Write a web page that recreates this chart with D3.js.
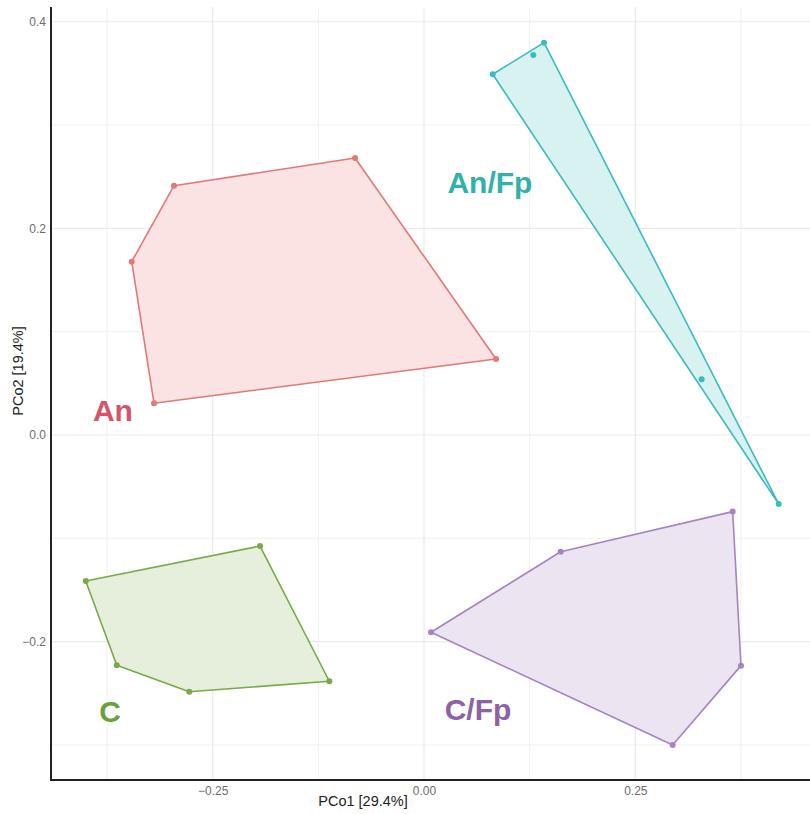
<!DOCTYPE html>
<html>
<head>
<meta charset="utf-8">
<script src="https://cdn.jsdelivr.net/npm/d3@7"></script>
<style>
  html, body { margin: 0; padding: 0; background: #fff; }
  svg { display: block; font-family: "Liberation Sans", Arial, sans-serif; }
</style>
</head>
<body>
<div id="chart"></div>
<script>
// ---- data ----
const groups = ["An", "An/Fp", "C", "C/Fp"];
const anPoints = [[-0.2958, 0.2413], [-0.0816, 0.2681], [0.0852, 0.0736], [-0.3194, 0.0307], [-0.3458, 0.1678]];
const anFpPoints = [[0.0813, 0.3492], [0.1420, 0.3798], [0.1293, 0.3679], [0.3285, 0.0539], [0.4196, -0.0668]];
const cPoints = [[-0.4002, -0.1413], [-0.1940, -0.1075], [-0.1120, -0.2384], [-0.2777, -0.2485], [-0.3635, -0.2229]];
const cFpPoints = [[0.0083, -0.1910], [0.1617, -0.1130], [0.3652, -0.0742], [0.3750, -0.2233], [0.2942, -0.3001]];
const xTicks = [-0.25, 0.00, 0.25];
const xTickLabels = ["\u22120.25", "0.00", "0.25"];
const yTicks = [-0.2, 0.0, 0.2, 0.4];
const yTickLabels = ["\u22120.2", "0.0", "0.2", "0.4"];
const xMinor = [-0.375, -0.125, 0.125, 0.375];
const yMinor = [-0.3, -0.1, 0.1, 0.3];
const xTitle = "PCo1 [29.4%]";
const yTitle = "PCo2 [19.4%]";

// ---- styling / layout ----
const W = 810, H = 814;
const margin = { left: 51, top: 7, right: -10, bottom: 34 };
const lineColors = { "An": "#e07a78", "An/Fp": "#3bbcbc", "C": "#7aa84a", "C/Fp": "#a485bf" };
const fillColors = { "An": "#fbe0e1", "An/Fp": "#d6f1f1", "C": "#e4eed9", "C/Fp": "#ece3f1" };
const textColors = { "An": "#d6546a", "An/Fp": "#30b2aa", "C": "#6c9f3c", "C/Fp": "#8c62a6" };
const labelAt = { "An": [-0.368, 0.0136], "An/Fp": [0.078, 0.2343], "C": [-0.3715, -0.2775], "C/Fp": [0.0639, -0.2759] };
const pointSets = { "An": anPoints, "An/Fp": anFpPoints, "C": cPoints, "C/Fp": cFpPoints };

const svg = d3.select("#chart").append("svg").attr("width", W).attr("height", H);

const x = d3.scaleLinear().domain([-0.4413, 0.4685]).range([margin.left, W - margin.right]);
const y = d3.scaleLinear().domain([-0.334, 0.4143]).range([H - margin.bottom, margin.top]);

const plotL = margin.left, plotR = W, plotT = margin.top, plotB = H - margin.bottom;

const grid = svg.append("g");
// minor grid
grid.selectAll(".vx").data(xMinor).join("line")
  .attr("x1", d => x(d)).attr("x2", d => x(d)).attr("y1", plotT).attr("y2", plotB)
  .attr("stroke", "#f0f0f0").attr("stroke-width", 1);
grid.selectAll(".hy").data(yMinor).join("line")
  .attr("y1", d => y(d)).attr("y2", d => y(d)).attr("x1", plotL).attr("x2", plotR)
  .attr("stroke", "#f0f0f0").attr("stroke-width", 1);
// major grid
grid.selectAll(".vX").data(xTicks).join("line")
  .attr("x1", d => x(d)).attr("x2", d => x(d)).attr("y1", plotT).attr("y2", plotB)
  .attr("stroke", "#ebebeb").attr("stroke-width", 1.2);
grid.selectAll(".hY").data(yTicks).join("line")
  .attr("y1", d => y(d)).attr("y2", d => y(d)).attr("x1", plotL).attr("x2", plotR)
  .attr("stroke", "#ebebeb").attr("stroke-width", 1.2);

// hulls
groups.forEach(g => {
  const pts = pointSets[g];
  const hull = d3.polygonHull(pts);
  svg.append("path")
    .attr("d", d3.line().x(d => x(d[0])).y(d => y(d[1]))(hull) + "Z")
    .attr("fill", fillColors[g]).attr("fill-opacity", 0.95)
    .attr("stroke", lineColors[g]).attr("stroke-width", 1.6)
    .attr("stroke-linejoin", "round");
  svg.append("g").selectAll("circle").data(pts).join("circle")
    .attr("cx", d => x(d[0])).attr("cy", d => y(d[1])).attr("r", 3)
    .attr("fill", lineColors[g]);
});

// group labels
groups.forEach(g => {
  svg.append("text")
    .attr("x", x(labelAt[g][0])).attr("y", y(labelAt[g][1]))
    .attr("text-anchor", "middle")
    .attr("font-size", 30).attr("font-weight", "bold")
    .attr("fill", textColors[g])
    .text(g);
});

// axes
const xAxis = d3.axisBottom(x).tickValues(xTicks).tickSize(0).tickPadding(6)
  .tickFormat((d, i) => xTickLabels[i]);
const yAxis = d3.axisLeft(y).tickValues(yTicks).tickSize(0).tickPadding(5)
  .tickFormat((d, i) => yTickLabels[i]);

const gx = svg.append("g").attr("transform", `translate(0,${plotB})`).call(xAxis);
gx.select(".domain").remove();
gx.selectAll("text").attr("fill", "#6b6b6b").attr("font-size", 12)
  .attr("font-family", "Liberation Sans, Arial, sans-serif");

const gy = svg.append("g").attr("transform", `translate(${plotL},0)`).call(yAxis);
gy.select(".domain").remove();
gy.selectAll("text").attr("fill", "#6b6b6b").attr("font-size", 12)
  .attr("font-family", "Liberation Sans, Arial, sans-serif");

// axis lines
svg.append("line").attr("x1", plotL).attr("x2", plotL).attr("y1", plotT).attr("y2", plotB + 1)
  .attr("stroke", "#222").attr("stroke-width", 2);
svg.append("line").attr("x1", plotL - 1).attr("x2", plotR).attr("y1", plotB).attr("y2", plotB)
  .attr("stroke", "#222").attr("stroke-width", 2);

// axis titles
svg.append("text").attr("x", 363).attr("y", 806).attr("text-anchor", "middle")
  .attr("font-size", 14.5).attr("fill", "#222").text(xTitle);
svg.append("text").attr("transform", "translate(23,371) rotate(-90)").attr("text-anchor", "middle")
  .attr("font-size", 14.5).attr("fill", "#222").text(yTitle);
</script>
</body>
</html>
